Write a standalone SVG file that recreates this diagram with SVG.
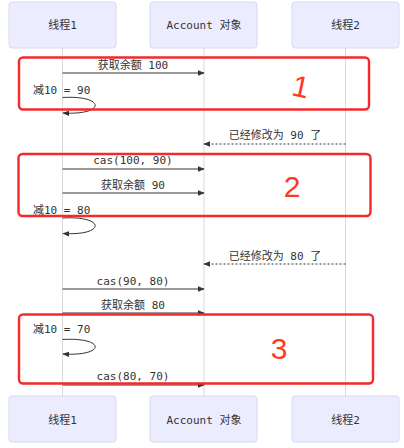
<svg xmlns="http://www.w3.org/2000/svg" width="404" height="448" viewBox="0 0 404 448">
<defs>
<style>
.actor{fill:#ececff;stroke:#d8d8f2;stroke-width:1}
.atext{font-family:"DejaVu Sans Mono","Noto Sans CJK SC",monospace;font-size:11px;fill:#333;text-anchor:middle;dominant-baseline:central}
.life{stroke:#d9d9d9;stroke-width:1}
.msg{stroke:#333;stroke-width:1;fill:none}
.dash{stroke:#333;stroke-width:1;fill:none;stroke-dasharray:2,2}
.mtext{font-family:"DejaVu Sans Mono","Noto Sans CJK SC",monospace;font-size:11px;fill:#333;text-anchor:middle;dominant-baseline:central}
.ltext{font-family:"DejaVu Sans Mono","Noto Sans CJK SC",monospace;font-size:11px;fill:#333;text-anchor:start;dominant-baseline:central}
.red{fill:none;stroke:#f22a2a;stroke-width:2.4}
.num{font-family:"Liberation Sans","Noto Sans",sans-serif;font-size:30px;fill:#ff3a1e;text-anchor:middle}
</style>
<marker id="arr" viewBox="0 0 10 10" refX="9" refY="5" markerWidth="7" markerHeight="7" orient="auto-start-reverse" markerUnits="userSpaceOnUse">
<path d="M0,1 L10,5 L0,9 z" fill="#333"/>
</marker>
</defs>
<rect width="404" height="448" fill="#ffffff"/>

<g id="lifelines">
<line class="life" x1="62.5" y1="48" x2="62.5" y2="396"/>
<line class="life" x1="204" y1="48" x2="204" y2="396"/>
<line class="life" x1="345.5" y1="48" x2="345.5" y2="396"/>
</g>

<g id="actor-t1-top"><rect class="actor" x="9" y="2" width="107" height="46" rx="3"/><text class="atext" x="62.5" y="25.5">线程1</text></g>
<g id="actor-acc-top"><rect class="actor" x="150" y="2" width="107" height="46" rx="3"/><text class="atext" x="204" y="25.5">Account 对象</text></g>
<g id="actor-t2-top"><rect class="actor" x="292" y="2" width="107" height="46" rx="3"/><text class="atext" x="345.5" y="25.5">线程2</text></g>

<g id="actor-t1-bottom"><rect class="actor" x="9" y="396" width="107" height="46" rx="3"/><text class="atext" x="62.5" y="420">线程1</text></g>
<g id="actor-acc-bottom"><rect class="actor" x="150" y="396" width="107" height="46" rx="3"/><text class="atext" x="204" y="420">Account 对象</text></g>
<g id="actor-t2-bottom"><rect class="actor" x="292" y="396" width="107" height="46" rx="3"/><text class="atext" x="345.5" y="420">线程2</text></g>

<g id="connectors">
<line class="msg" x1="62.5" y1="73" x2="204" y2="73" marker-end="url(#arr)"/>
<text class="mtext" x="133" y="65">获取余额 100</text>

<text class="ltext" x="33" y="90">减10 = 90</text>
<path class="msg" d="M62.5,97.5 C106,95 106,115.5 63,113" marker-end="url(#arr)"/>

<line class="dash" x1="345.5" y1="144" x2="204" y2="144" marker-end="url(#arr)"/>
<text class="mtext" x="275" y="135">已经修改为 90 了</text>

<line class="msg" x1="62.5" y1="169" x2="204" y2="169" marker-end="url(#arr)"/>
<text class="mtext" x="133" y="160.5">cas(100, 90)</text>

<line class="msg" x1="62.5" y1="193" x2="204" y2="193" marker-end="url(#arr)"/>
<text class="mtext" x="133" y="185">获取余额 90</text>

<text class="ltext" x="33" y="210">减10 = 80</text>
<path class="msg" d="M62.5,218 C106,215.5 106,236 63,233.5" marker-end="url(#arr)"/>

<line class="dash" x1="345.5" y1="264" x2="204" y2="264" marker-end="url(#arr)"/>
<text class="mtext" x="275" y="256">已经修改为 80 了</text>

<line class="msg" x1="62.5" y1="289" x2="204" y2="289" marker-end="url(#arr)"/>
<text class="mtext" x="133" y="281">cas(90, 80)</text>

<line class="msg" x1="62.5" y1="313" x2="204" y2="313" marker-end="url(#arr)"/>
<text class="mtext" x="133" y="305.5">获取余额 80</text>

<text class="ltext" x="33" y="329.5">减10 = 70</text>
<path class="msg" d="M62.5,339.5 C106,337 106,356.5 63,354" marker-end="url(#arr)"/>

<line class="msg" x1="62.5" y1="385" x2="204" y2="385" marker-end="url(#arr)"/>
<text class="mtext" x="133" y="376">cas(80, 70)</text>
</g>

<g id="annotations">
<rect class="red" x="19" y="57.5" width="350" height="52" rx="4"/>
<rect class="red" x="18.5" y="154" width="352" height="62" rx="4"/>
<rect class="red" x="19" y="314.5" width="354" height="69" rx="4"/>
<text class="num" x="301" y="97" transform="rotate(12 301 86)">1</text>
<text class="num" x="292" y="197">2</text>
<text class="num" x="279" y="359">3</text>
</g>
</svg>
